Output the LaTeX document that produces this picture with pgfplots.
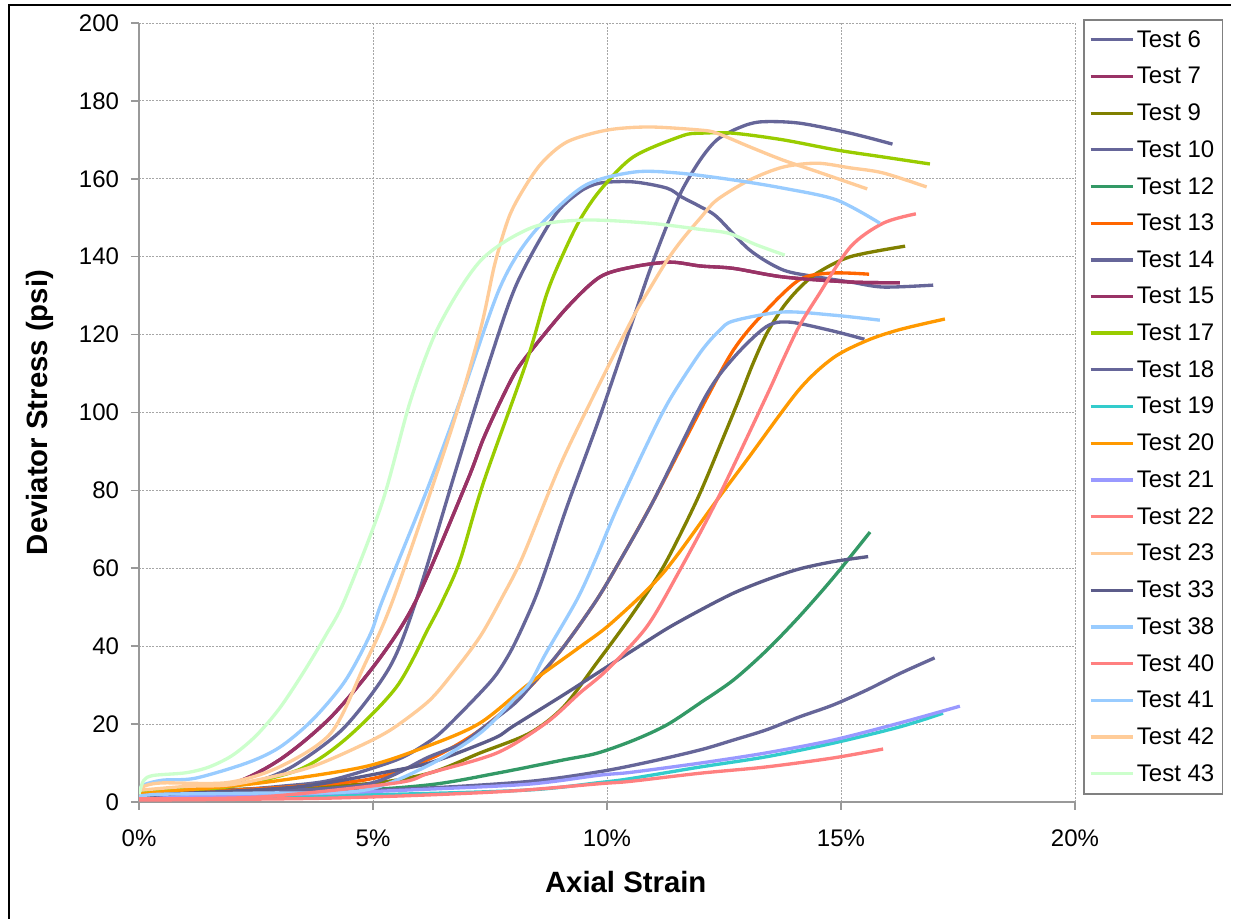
\documentclass[border=0pt]{standalone}
\usepackage{pgfplots}
\pgfplotsset{compat=1.18}
\usepackage{fontspec}
\setmainfont{Liberation Sans}
\definecolor{c6}{HTML}{666699}
\definecolor{c7}{HTML}{993366}
\definecolor{c9}{HTML}{808000}
\definecolor{c12}{HTML}{339966}
\definecolor{c13}{HTML}{FF6600}
\definecolor{c17}{HTML}{99CC00}
\definecolor{c19}{HTML}{33CCCC}
\definecolor{c20}{HTML}{FF9900}
\definecolor{c21}{HTML}{9999FF}
\definecolor{c22}{HTML}{FF8080}
\definecolor{c23}{HTML}{FFCC99}
\definecolor{c33}{HTML}{5C5C8A}
\definecolor{c38}{HTML}{99CCFF}
\definecolor{c43}{HTML}{CCFFCC}
\begin{document}
\begin{tikzpicture}
\useasboundingbox (0,0) rectangle (928.5pt,689.25pt);
\draw[line width=1.5pt] (6.4pt,-1pt) -- (6.4pt,685.5pt) -- (923pt,685.5pt);
\begin{axis}[
  at={(104.25pt,87.75pt)}, anchor=south west,
  scale only axis, width=702pt, height=584.25pt,
  xmin=0, xmax=20, ymin=0, ymax=200,
  xtick={0,5,10,15,20}, xticklabels={0\%,5\%,10\%,15\%,20\%},
  ytick={0,20,...,200},
  axis x line*=bottom, axis y line*=left,
  axis line style={draw=black!40, line width=1.5pt, -},
  tick align=outside, major tick length=6pt,
  tick style={draw=black!40, line width=1.2pt},
  grid=major,
  major grid style={draw=black!35, line width=0.6pt, dash pattern=on 1.5pt off 1pt},
  /pgf/number format/assume math mode=true,
  ticklabel style={font=\fontsize{18}{21}\selectfont},
  xticklabel style={yshift=-11pt},
  yticklabel style={xshift=-5.5pt},
  xlabel={Axial Strain}, ylabel={Deviator Stress (psi)},
  label style={font=\fontsize{22}{26}\selectfont\bfseries},
  xlabel style={at={(axis description cs:0.520,-0.1027)}, anchor=center},
  ylabel style={at={(axis description cs:-0.1058,0.5)}, anchor=center, rotate=0},
  legend style={at={(axis description cs:1.0085,1.0051)}, anchor=north west,
    draw=black!50, line width=1.2pt, font=\fontsize{18}{21}\selectfont,
    row sep=9.5pt, inner xsep=4pt, inner ysep=6pt},
  legend cell align=left,
  legend image code/.code={\draw[line width=2.4pt,#1] (0pt,0pt) -- (31.5pt,0pt);},
  every axis plot/.append style={line width=2.5pt, line join=round, smooth, tension=0.5},
]
\addplot[c6] coordinates {(0,1.5)(0.1,2.3)(0.5,2.5)(1.9,3.9)(2.7,6)(3.4,10)(4.4,19.3)(5.36,34.7)(5.93,52)(6.79,86)(7.5,113.5)(8.07,133)(8.85,150)(9.4,156.5)(9.85,158.9)(10.56,159.2)(11.28,157.6)(11.6,155.3)(12.0,152.8)(12.35,150.2)(13.05,141.7)(13.76,136.6)(14.49,134.8)(15.2,133.5)(15.9,132.2)(16.97,132.7)};
\addlegendentry{Test 6}
\addplot[c7] coordinates {(0,2.6)(0.5,3.2)(1.9,4.4)(3.0,10.8)(4.1,21.8)(5.15,37)(5.93,52)(7.0,82)(7.35,93)(7.71,102.5)(8.05,110.5)(8.42,116.5)(9.15,127)(9.85,134.8)(10.56,137.4)(11.35,138.6)(12.0,137.6)(12.7,137)(13.76,134.8)(15.2,133.5)(16.26,133.3)};
\addlegendentry{Test 7}
\addplot[c9] coordinates {(0,2.5)(0.5,2.8)(2,3.2)(4.8,4.6)(6.2,7.4)(7.29,12.6)(8.35,17.7)(9.07,24.4)(9.78,35.7)(10.5,47.5)(11.2,60.3)(11.92,77.5)(12.5,94)(12.84,104)(13.1,112)(13.4,120)(13.76,127)(14.1,131.8)(14.49,135.8)(15.2,140)(16.37,142.7)};
\addlegendentry{Test 9}
\addplot[c6] coordinates {(0,2)(0.5,2.5)(1.9,3)(3,4)(4.1,5.6)(5.5,10.8)(6.2,15.5)(6.58,19.3)(7.29,28)(7.65,33)(8.0,40)(8.42,51)(8.7,60)(9.15,76)(9.85,99)(10.56,124)(10.9,136)(11.28,148)(11.6,157)(12.0,165)(12.35,170)(12.8,173)(13.27,174.6)(14.1,174.3)(15.2,171.7)(16.1,168.9)};
\addlegendentry{Test 10}
\addplot[c12] coordinates {(0,1)(0.5,1.3)(4.1,2.6)(6.2,4.4)(7.65,7.4)(9.07,10.8)(9.78,12.5)(10.56,15.8)(11.28,19.8)(12.0,25.5)(12.7,31.3)(13.4,38.8)(14.1,47.5)(14.83,57.5)(15.62,69.3)};
\addlegendentry{Test 12}
\addplot[c13] coordinates {(0,2)(0.5,2.5)(2,3)(4.8,5.6)(6.2,11)(7.29,18.5)(8.35,29.5)(9.07,39.8)(9.78,51.9)(10.28,62)(11.0,77.5)(12.1,103)(12.7,116)(13.27,124.5)(14.1,134)(14.8,135.8)(15.6,135.5)};
\addlegendentry{Test 13}
\addplot[c6] coordinates {(0,1.5)(0.5,2)(2,2.5)(4.8,4.4)(6.2,11.6)(6.9,15)(7.29,18.5)(8.0,25)(8.35,29.5)(9.07,39.8)(9.78,51.9)(10.28,62)(11.0,77.5)(12.1,104)(12.7,114)(13.4,122)(13.9,123.2)(14.8,121)(15.5,118.8)};
\addlegendentry{Test 14}
\addplot[c7] coordinates {(0,2.6)(0.5,3.2)(1.9,4.4)(3.0,10.8)(4.1,21.8)(5.15,37)(5.93,52)(7.0,82)(7.35,93)(7.71,102.5)(8.05,110.5)(8.42,116.5)(9.15,127)(9.85,134.8)(10.56,137.4)(11.35,138.6)(12.0,137.6)(12.7,137)(13.76,134.8)(15.2,133.5)(16.26,133.3)};
\addlegendentry{Test 15}
\addplot[c17] coordinates {(0,2.5)(0.5,3)(1.9,3.9)(3.4,8.2)(4.4,16)(5.5,29.5)(6.2,45)(6.5,52)(6.86,62)(7.36,82)(8.28,113)(8.7,130)(9.0,139)(9.4,149)(9.85,157)(10.56,165.6)(11.6,171)(12.0,171.7)(12.7,171.7)(13.76,170)(14.9,167.4)(15.9,165.6)(16.9,163.8)};
\addlegendentry{Test 17}
\addplot[c6] coordinates {(0,1)(0.5,1.5)(3.4,2.3)(6.2,3.6)(8.35,5.3)(9.85,7.8)(10.9,10.3)(12.0,13.4)(12.7,15.9)(13.4,18.5)(14.1,21.8)(14.83,24.9)(15.56,28.8)(16.26,33)(17.0,37)};
\addlegendentry{Test 18}
\addplot[c19] coordinates {(0,0.8)(0.5,1)(5.5,2)(8.35,3.1)(9.85,5)(10.5,6)(12.0,9)(13.4,11.6)(14.83,15.1)(16.26,19.3)(17.18,22.8)};
\addlegendentry{Test 19}
\addplot[c20] coordinates {(0,2)(0.5,2.6)(2.6,4.9)(4.8,9)(6.2,14.5)(7.29,20.3)(8.35,30.5)(9.42,39.8)(10.1,46)(11.2,58.8)(12.35,77.5)(13.0,88)(14.1,105.8)(14.83,114)(15.56,118.5)(16.26,121.3)(17.22,124)};
\addlegendentry{Test 20}
\addplot[c21] coordinates {(0,1)(0.5,1.3)(3.4,2)(6.2,3.3)(8.35,4.6)(9.85,6.9)(10.5,7.6)(12.0,10)(13.4,12.6)(14.83,15.9)(16.26,20.3)(17.54,24.6)};
\addlegendentry{Test 21}
\addplot[c22] coordinates {(0,0.5)(4.1,1)(7.65,2.6)(9.85,4.7)(10.5,5.3)(12.0,7.4)(13.4,9)(14.83,11.3)(15.9,13.6)};
\addlegendentry{Test 22}
\addplot[c23] coordinates {(0,3)(1,4)(2,4.5)(3.4,8)(4.1,11)(5.0,16)(5.5,19.5)(6.2,26)(6.7,33)(7.29,42.5)(7.78,53)(8.2,63)(9.0,86.5)(9.85,107.6)(10.56,124.5)(10.9,131.5)(11.28,139)(11.6,144.3)(12.0,150)(12.35,154.6)(13.05,159.7)(13.76,163)(14.49,164)(15.2,162.8)(15.9,161.5)(16.83,157.9)};
\addlegendentry{Test 23}
\addplot[c33] coordinates {(0,1)(0.5,1.9)(3.4,3.9)(5.5,8.2)(6.2,10)(6.9,13)(7.65,16.7)(8.0,19.5)(9.07,27.5)(10.0,34.7)(10.56,39)(11.28,44.5)(12.0,49.3)(12.7,53.6)(13.4,57)(14.1,59.8)(14.83,61.7)(15.58,63)};
\addlegendentry{Test 33}
\addplot[c38] coordinates {(0,1.5)(0.5,2)(2.6,2.3)(4.8,3)(6.2,9.5)(7.29,17.7)(8.0,26.2)(8.35,30.5)(8.7,38.3)(9.36,52)(9.78,63)(10.2,75)(10.9,93)(11.35,103.5)(12.0,115.5)(12.4,121)(12.7,123.5)(13.76,125.8)(14.83,125)(15.83,123.7)};
\addlegendentry{Test 38}
\addplot[c22] coordinates {(0,0.8)(2.6,1.3)(5.5,4.9)(6.2,7.4)(7.65,12.6)(8.7,20.3)(9.42,28)(10.0,33.9)(10.85,45)(11.56,59.6)(12.35,77.5)(13.4,104)(13.76,113.5)(14.1,122)(14.49,129.6)(15.2,142.5)(15.9,148.6)(16.6,151)};
\addlegendentry{Test 40}
\addplot[c38] coordinates {(0,3)(0.1,4.4)(0.5,5.6)(1.2,6.1)(2.3,10)(3.0,14)(3.7,21)(4.4,31)(4.94,43)(5.21,52)(6.15,80)(6.86,103)(7.71,132)(8.42,146)(9.49,158)(10.56,161.7)(11.5,161.5)(12.7,159.7)(13.76,157.6)(14.9,154.6)(15.83,148.6)};
\addlegendentry{Test 41}
\addplot[c23] coordinates {(0,2.5)(0.1,4)(0.5,4.9)(1.9,5)(3.0,9)(4.1,17.7)(4.8,34.7)(5.43,52)(6.65,94.7)(7.29,121)(7.6,138)(7.9,150)(8.2,157)(8.6,164)(9.15,169.5)(10.0,172.5)(10.9,173.3)(12.0,172.5)(12.35,171.7)(13.05,168.2)(13.76,164.8)(14.5,161.8)(15.56,157.4)};
\addlegendentry{Test 42}
\addplot[c43] coordinates {(0,2)(0.1,5.5)(0.3,6.8)(1,7.5)(1.5,9)(2,12)(2.5,17)(3,24)(3.5,33)(4,43)(4.4,52)(5.2,77)(5.8,103)(6.4,122)(7.3,139)(8.4,147.5)(9.5,149.4)(10.9,148.6)(12,147)(12.6,146)(13.2,143)(13.8,140.4)};
\addlegendentry{Test 43}
\end{axis}
\end{tikzpicture}
\end{document}
